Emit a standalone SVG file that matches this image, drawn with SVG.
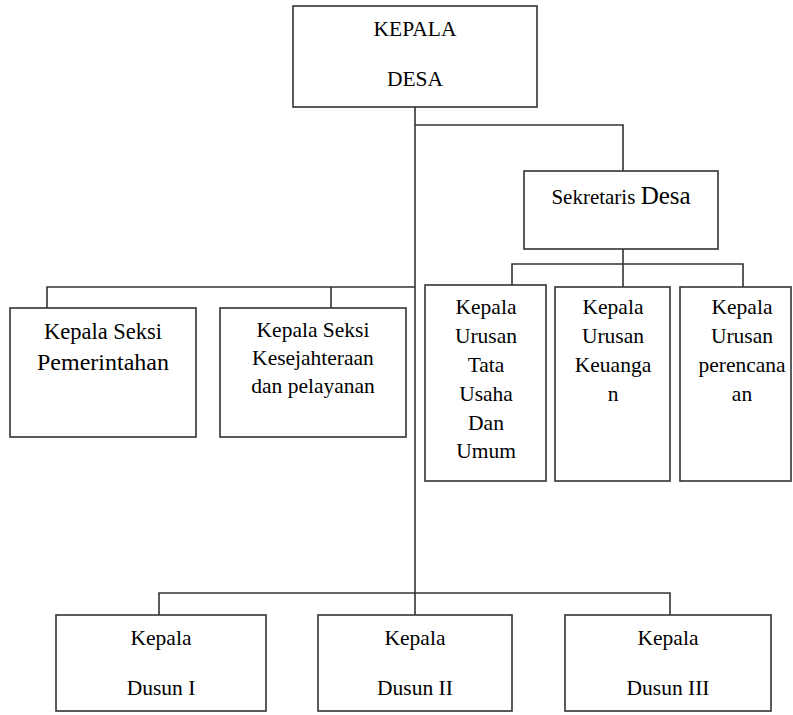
<svg xmlns="http://www.w3.org/2000/svg" width="793" height="715" viewBox="0 0 793 715">
<style>
.box{fill:#fff;stroke:#333;stroke-width:1.6}
.ln{fill:none;stroke:#333;stroke-width:1.6}
text{font-family:"Liberation Serif","Times New Roman",serif;font-size:21.5px;fill:#000;text-anchor:middle}
text.l1{font-size:22.5px}
text.l2{font-size:24px}
</style>
<rect width="793" height="715" fill="#fff"/>
<g id="connectors">
<path class="ln" d="M415 100V615"/>
<path class="ln" d="M415 125H623V171"/>
<path class="ln" d="M623 242V287"/>
<path class="ln" d="M512 285V264H743V287"/>
<path class="ln" d="M47 308V287H415"/>
<path class="ln" d="M331 287V308"/>
<path class="ln" d="M159 615V593H670V615"/>
</g>
<g id="kepala-desa">
<rect class="box" x="293" y="6" width="244" height="101"/>
<text x="415" y="36">KEPALA</text>
<text x="415" y="86">DESA</text>
</g>
<g id="sekretaris-desa">
<rect class="box" x="524" y="171" width="194" height="78"/>
<text x="621" y="204"><tspan font-size="21px">Sekretaris </tspan><tspan font-size="25px">Desa</tspan></text>
</g>
<g id="seksi-pemerintahan">
<rect class="box" x="10" y="308" width="186" height="129"/>
<text class="l1" x="103" y="339">Kepala Seksi</text>
<text class="l2" x="103" y="370">Pemerintahan</text>
</g>
<g id="seksi-kesejahteraan">
<rect class="box" x="220" y="308" width="186" height="129"/>
<text x="313" y="337">Kepala Seksi</text>
<text x="313" y="365">Kesejahteraan</text>
<text x="313" y="393">dan pelayanan</text>
</g>
<g id="urusan-tata-usaha">
<rect class="box" x="425" y="285" width="121" height="196"/>
<text x="486" y="314">Kepala</text>
<text x="486" y="343">Urusan</text>
<text x="486" y="372">Tata</text>
<text x="486" y="401">Usaha</text>
<text x="486" y="430">Dan</text>
<text x="486" y="458">Umum</text>
</g>
<g id="urusan-keuangan">
<rect class="box" x="555" y="287" width="115" height="194"/>
<text x="613" y="314">Kepala</text>
<text x="613" y="343">Urusan</text>
<text x="613" y="372">Keuanga</text>
<text x="613" y="401">n</text>
</g>
<g id="urusan-perencanaan">
<rect class="box" x="680" y="287" width="111" height="194"/>
<text x="742" y="314">Kepala</text>
<text x="742" y="343">Urusan</text>
<text x="742" y="372">perencana</text>
<text x="742" y="401">an</text>
</g>
<g id="dusun-1">
<rect class="box" x="56" y="615" width="210" height="96"/>
<text x="161" y="645">Kepala</text>
<text x="161" y="695">Dusun I</text>
</g>
<g id="dusun-2">
<rect class="box" x="318" y="615" width="194" height="96"/>
<text x="415" y="645">Kepala</text>
<text x="415" y="695">Dusun II</text>
</g>
<g id="dusun-3">
<rect class="box" x="565" y="615" width="206" height="96"/>
<text x="668" y="645">Kepala</text>
<text x="668" y="695">Dusun III</text>
</g>
</svg>
